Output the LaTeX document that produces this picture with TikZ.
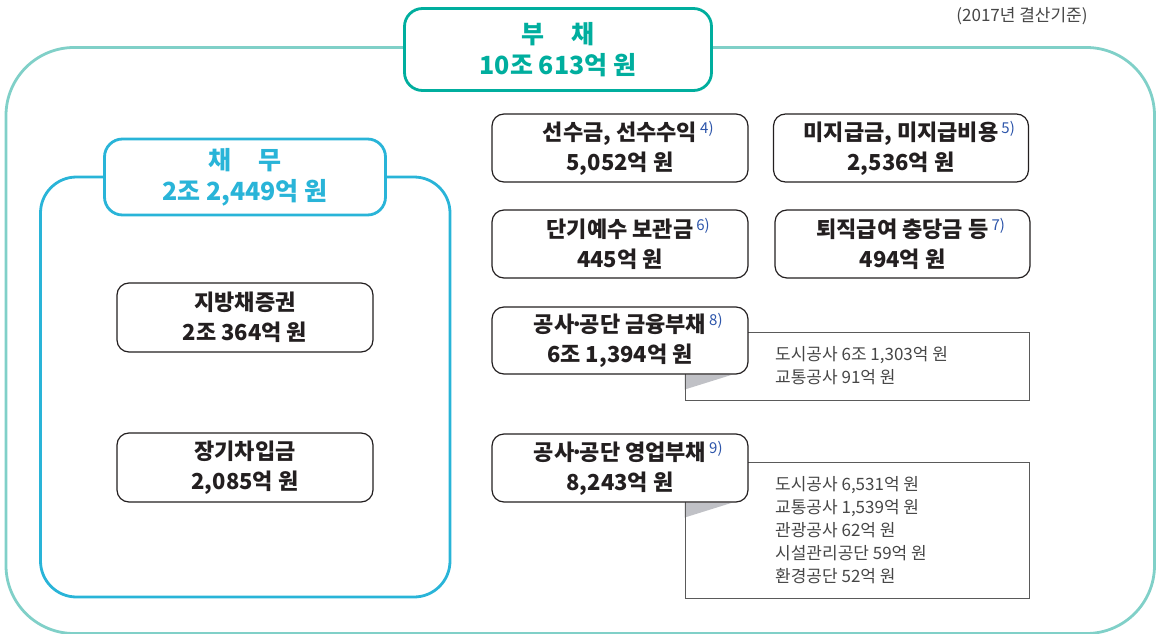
\documentclass[tikz,border=0pt]{standalone}
\usepackage{fontspec}
\usetikzlibrary{backgrounds}
\setmainfont{Noto Sans CJK KR}
\definecolor{debtteal}{RGB}{0,174,158}
\definecolor{debtframe}{RGB}{128,208,200}
\definecolor{dutyblue}{RGB}{41,180,216}
\definecolor{noteblue}{RGB}{45,85,170}
\definecolor{boxline}{RGB}{35,31,32}
\definecolor{detailline}{RGB}{90,90,90}
\definecolor{detailtext}{RGB}{70,70,70}
\definecolor{tailgray}{RGB}{192,193,198}
\newcommand{\fnmark}[1]{\rlap{\hspace{3pt}\raisebox{7pt}{\fontsize{15}{15}\selectfont\mdseries\color{noteblue}#1}}}
\newcommand{\middot}{\kern-0.18em·\kern-0.18em}
\tikzset{
  itembox/.style={draw=boxline,line width=1.2pt,rounded corners=12pt,fill=white,minimum width=256pt,minimum height=68pt,inner sep=0pt,align=center,text=boxline,font=\fontsize{22}{30}\selectfont\bfseries},
  headbox/.style={line width=2.8pt,rounded corners=18pt,fill=white,inner sep=0pt,align=center,font=\fontsize{25}{31}\selectfont\bfseries},
  detailbox/.style={draw=detailline,line width=1pt,minimum width=344pt,inner sep=0pt},
  detailtxt/.style={anchor=west,align=left,inner sep=0pt,text=detailtext,font=\fontsize{17}{23}\selectfont},
}
\begin{document}
\begin{tikzpicture}[x=1pt,y=-1pt]
\path[use as bounding box] (0,0) rectangle (1157,634);
\draw[debtframe,line width=2.8pt,rounded corners=68pt] (6,47.5) rectangle (1154.5,633.5);
\draw[dutyblue,line width=2.8pt,rounded corners=36pt] (40.5,177) rectangle (450,597);
\node[text=detailtext,font=\fontsize{17}{20}\selectfont] (basis) at (1022,16) {(2017년 결산기준)};
\node[headbox,draw=debtteal,text=debtteal,minimum width=307pt,minimum height=82pt] (debt) at (558,49.5) {부\hspace{1.1em}채\\10조 613억 원};
\node[headbox,draw=dutyblue,text=dutyblue,minimum width=281pt,minimum height=76pt] (duty) at (245,177) {채\hspace{1.1em}무\\2조 2,449억 원};
\node[itembox,minimum height=69pt] (bond) at (245,317.5) {지방채증권\\2조 364억 원};
\node[itembox,minimum height=69pt] (loan) at (245,467.5) {장기차입금\\2,085억 원};
\node[itembox] (advance) at (620,148) {선수금, 선수수익\fnmark{4)}\\5,052억 원};
\node[itembox,minimum width=255pt] (unpaid) at (901,148) {미지급금, 미지급비용\fnmark{5)}\\2,536억 원};
\node[itembox] (deposit) at (620,244) {단기예수 보관금\fnmark{6)}\\445억 원};
\node[itembox,minimum width=255pt] (retire) at (902.5,244) {퇴직급여 충당금 등\fnmark{7)}\\494억 원};
\node[detailbox,minimum height=68pt] (findet) at (857,366) {};
\node[detailtxt] (fintxt) at (775,366) {도시공사 6조 1,303억 원\\교통공사 91억 원};
\node[detailbox,minimum height=136pt] (opdet) at (857,530) {};
\node[detailtxt] (optxt) at (775,530) {도시공사 6,531억 원\\교통공사 1,539억 원\\관광공사 62억 원\\시설관리공단 59억 원\\환경공단 52억 원};
\node[itembox,minimum height=67pt] (fin) at (620,340.5) {공사\middot 공단 금융부채\fnmark{8)}\\6조 1,394억 원};
\node[itembox] (oper) at (620,468) {공사\middot 공단 영업부채\fnmark{9)}\\8,243억 원};
\begin{scope}[on background layer]
\fill[tailgray] (findet.west |- fin.south) -- ++(48,0) -- ++(-48,15) -- cycle;
\fill[tailgray] (opdet.west |- oper.south) -- ++(48,0) -- ++(-48,15) -- cycle;
\end{scope}
\end{tikzpicture}
\end{document}
